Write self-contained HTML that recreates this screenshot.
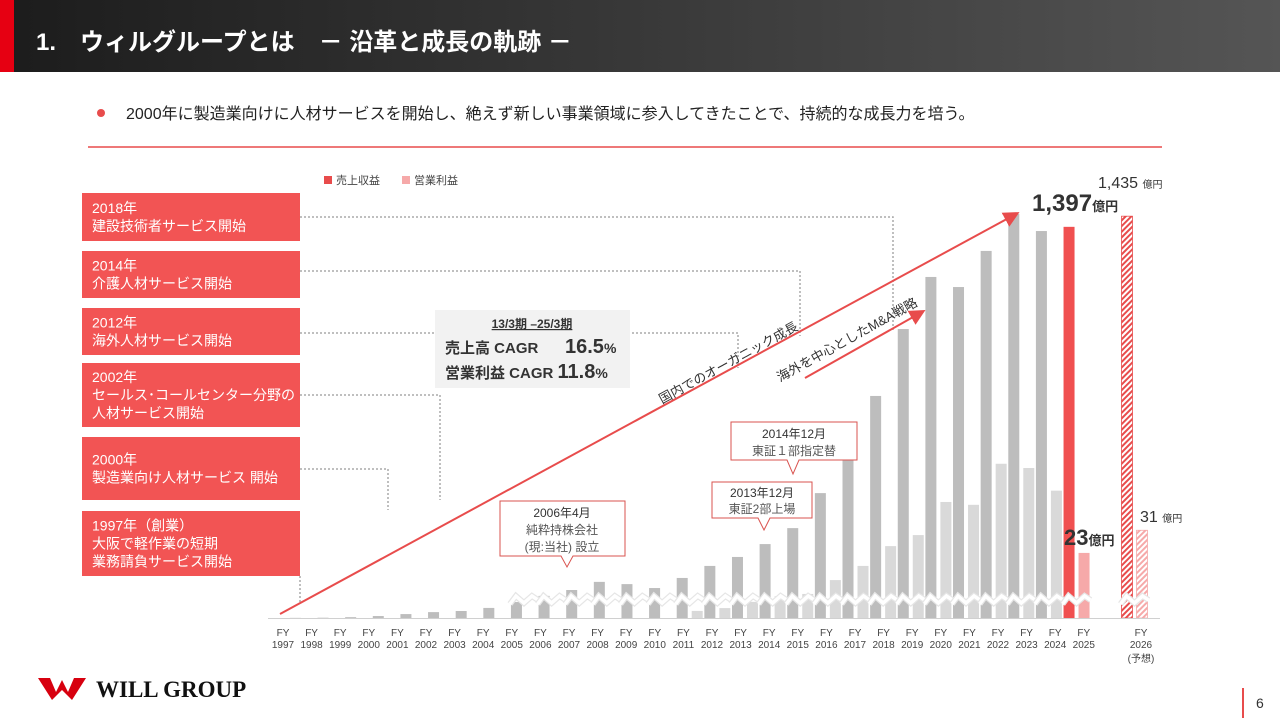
<!DOCTYPE html>
<html><head><meta charset="utf-8">
<style>
body{margin:0;width:1280px;height:720px;overflow:hidden;background:#fff;font-family:"Liberation Sans","Noto Sans CJK JP",sans-serif;}
svg text{font-family:"Liberation Sans","Noto Sans CJK JP",sans-serif;}
svg text.logo{font-family:"Liberation Serif",serif;}
</style></head><body>
<svg id="s" width="1280" height="720" viewBox="0 0 1280 720" xmlns="http://www.w3.org/2000/svg">
<defs>
<linearGradient id="hg" x1="0" x2="1" y1="0" y2="0"><stop offset="0" stop-color="#1c1c1c"/><stop offset="1" stop-color="#555"/></linearGradient>
<pattern id="hatchR" width="4" height="4" patternUnits="userSpaceOnUse" patternTransform="rotate(45)"><rect width="4" height="4" fill="#fff"/><rect width="2" height="4" fill="#e84c4c"/></pattern>
<pattern id="hatchP" width="4" height="4" patternUnits="userSpaceOnUse" patternTransform="rotate(45)"><rect width="4" height="4" fill="#fff"/><rect width="2" height="4" fill="#f6a9a9"/></pattern>
<marker id="ah" markerWidth="8" markerHeight="8" refX="6" refY="4" orient="auto"><path d="M0,0 L8,4 L0,8 z" fill="#e84c4c"/></marker>
</defs>
<rect x="0" y="0" width="1280" height="72" fill="url(#hg)"/>
<rect x="0" y="0" width="14" height="72" fill="#e60012"/>
<text x="36" y="50" fill="#fff" font-size="24" font-weight="bold">1.　ウィルグループとは　－ 沿革と成長の軌跡 －</text>
<circle cx="101" cy="113" r="4" fill="#e84c4c"/>
<text x="126" y="119" font-size="16" fill="#222">2000年に製造業向けに人材サービスを開始し、絶えず新しい事業領域に参入してきたことで、持続的な成長力を培う。</text>
<line x1="88" y1="147" x2="1162" y2="147" stroke="#e84c4c" stroke-width="1.5"/>
<rect x="324" y="176" width="8" height="8" fill="#e84c4c"/>
<text x="336" y="184" font-size="11" fill="#444">売上収益</text>
<rect x="402" y="176" width="8" height="8" fill="#f6a9a9"/>
<text x="414" y="184" font-size="11" fill="#444">営業利益</text>
<g id="conn" fill="none" stroke="#aaa" stroke-width="1.5" stroke-dasharray="2,2">
<polyline points="300,217 893,217 893,330"/>
<polyline points="300,271 800,271 800,336"/>
<polyline points="300,333 738,333 738,368"/>
<polyline points="300,395 440,395 440,500"/>
<polyline points="300,469 388,469 388,510"/>
<polyline points="300,576 300,602"/>
</g>
<g id="boxes"></g>
<g id="chart"></g>
<rect x="435" y="310" width="195" height="78" fill="#f2f2f2"/>
<text x="532" y="328" font-size="12" font-weight="bold" text-anchor="middle" fill="#333" text-decoration="underline">13/3期 –25/3期</text>
<text x="445" y="353" font-size="15" font-weight="bold" fill="#333">売上高 CAGR</text>
<text x="565" y="353" font-size="20" font-weight="bold" fill="#333">16.5<tspan font-size="14">%</tspan></text>
<text x="445" y="378" font-size="15" font-weight="bold" fill="#333">営業利益 CAGR <tspan font-size="20">11.8</tspan><tspan font-size="14">%</tspan></text>
<line x1="280" y1="614" x2="1016" y2="214" stroke="#e84c4c" stroke-width="2" marker-end="url(#ah)"/>
<line x1="805" y1="378" x2="922" y2="312" stroke="#e84c4c" stroke-width="2" marker-end="url(#ah)"/>
<text transform="translate(662,404) rotate(-28.6)" font-size="13" fill="#333">国内でのオーガニック成長</text>
<text transform="translate(780,382) rotate(-29)" font-size="13" fill="#333">海外を中心としたM&amp;A戦略</text>
<g fill="#fff" stroke="#d9534f" stroke-width="1">
<path d="M500,501 H625 V556 H573 L567,567 L561,556 H500 Z"/>
<path d="M712,482 H812 V518 H770 L764,530 L758,518 H712 Z"/>
<path d="M731,422 H857 V460 H799 L793,474 L787,460 H731 Z"/>
</g>
<g font-size="12" fill="#333" text-anchor="middle">
<text x="562" y="517">2006年4月</text>
<text x="562" y="534" fill="#555">純粋持株会社</text>
<text x="562" y="551" fill="#555">(現:当社) 設立</text>
<text x="762" y="497">2013年12月</text>
<text x="762" y="513" fill="#555">東証2部上場</text>
<text x="794" y="438">2014年12月</text>
<text x="794" y="455" fill="#555">東証１部指定替</text>
</g>
<text x="1098" y="188" font-size="16" fill="#333">1,435 <tspan font-size="10">億円</tspan></text>
<text x="1032" y="211" font-size="24" font-weight="bold" fill="#333">1,397<tspan font-size="13">億円</tspan></text>
<text x="1064" y="545" font-size="22" font-weight="bold" fill="#333">23<tspan font-size="13">億円</tspan></text>
<text x="1140" y="522" font-size="16" fill="#333">31 <tspan font-size="10">億円</tspan></text>
<g>
<path d="M38,678 L50,678 L56,692 L62,680 L68,692 L74,678 L86,678 L72,700 L62,690 L52,700 Z" fill="#d7000f"/>
<text class="logo" x="96" y="697" font-size="23" font-weight="bold" fill="#111">WILL GROUP</text>
</g>
<line x1="1243" y1="688" x2="1243" y2="718" stroke="#e84c4c" stroke-width="2"/>
<text x="1256" y="708" font-size="14" fill="#333">6</text>
</svg>
<script>
const years=["1997","1998","1999","2000","2001","2002","2003","2004","2005","2006","2007","2008","2009","2010","2011","2012","2013","2014","2015","2016","2017","2018","2019","2020","2021","2022","2023","2024","2025"];
const revenue=[0.5,1,3,7,14,21,25,36,57,79,100,129,121,107,143,186,218,264,321,446,571,793,1032,1218,1182,1311,1443,1382,1397];
const profit=[0,0,0,0,0,0,0,0,0,0,0,0,0,0,2.5,3.5,5.7,7.7,8.5,13.4,18.4,25.4,29.3,41,40,54.5,53,45,23];
const forecastRevenue=1435;
const forecastProfit=31;
const boxTitles=["2018年","2014年","2012年","2002年","2000年","1997年（創業）"];
const boxBodies=[["建設技術者サービス開始"],["介護人材サービス開始"],["海外人材サービス開始"],["セールス･コールセンター分野の","人材サービス開始"],["製造業向け人材サービス 開始"],["大阪で軽作業の短期","業務請負サービス開始"]];
const NS="http://www.w3.org/2000/svg";
const base=618;
function revX(i){return 295.4+i*27.63;}
function profX(i){return revX(i)+15;}
function labX(i){return 283+i*28.6;}
function revY(v){return base-v*0.28;}
function profY(v){return base-v*2.83;}
function mk(tag,attrs,parent){const e=document.createElementNS(NS,tag);for(const k in attrs)e.setAttribute(k,attrs[k]);parent.appendChild(e);return e;}
const chart=document.getElementById('chart');
const bw=11;
years.forEach((y,i)=>{
  const last=i===years.length-1;
  const r=mk('rect',{x:revX(i)-bw/2,y:revY(revenue[i]),width:bw,height:base-revY(revenue[i]),fill:last?'#f05050':'#bdbdbd'},chart);
  
  
  if(profit[i]>0){
    const p=mk('rect',{x:profX(i)-bw/2,y:profY(profit[i]),width:bw,height:base-profY(profit[i]),fill:last?'#f6a9a9':'#d9d9d9'},chart);
    
    
  }
  const t=mk('text',{x:labX(i),y:636,'font-size':10,'text-anchor':'middle',fill:'#444'},chart);
  
  
  t.innerHTML='<tspan x="'+labX(i)+'">FY</tspan><tspan x="'+labX(i)+'" dy="12">'+y+'</tspan>';
});
const fx=1127;
const fr=mk('rect',{x:fx-bw/2,y:revY(forecastRevenue),width:bw,height:base-revY(forecastRevenue),fill:'url(#hatchR)',stroke:'#e84c4c','stroke-width':0.8},chart);


const fp=mk('rect',{x:fx+15-bw/2,y:profY(forecastProfit),width:bw,height:base-profY(forecastProfit),fill:'url(#hatchP)',stroke:'#f6a9a9','stroke-width':0.8},chart);


const ft=mk('text',{x:1141,y:636,'font-size':10,'text-anchor':'middle',fill:'#444'},chart);


ft.innerHTML='<tspan x="1141">FY</tspan><tspan x="1141" dy="12">2026</tspan><tspan x="1141" dy="14">(予想)</tspan>';
const ax=mk('line',{x1:268,y1:base+0.5,x2:1160,y2:base+0.5,stroke:'#d0d0d0','stroke-width':1},chart);


const brk=[];
for(let i=8;i<years.length;i++)brk.push(revX(i)+7.5);
brk.push(fx+7.5);
brk.forEach((cx,k)=>{
  const d='M'+(cx-14)+',604 L'+(cx-8)+',596 L'+(cx)+',603 L'+(cx+8)+',596 L'+(cx+14)+',600';
  const g=mk('path',{d:d,fill:'none',stroke:'#e6e6e6','stroke-width':6},chart);
  
  
  const w=mk('path',{d:d,fill:'none',stroke:'#fff','stroke-width':3.5},chart);
  
  
});
const boxes=document.getElementById('boxes');
const boxY=[193,251,308,363,437,511];
const boxH=[48,47,47,64,63,65];
boxTitles.forEach((t,i)=>{
  const r=mk('rect',{x:82,y:boxY[i],width:218,height:boxH[i],fill:'#f25454'},boxes);
  
  
  const lines=[t].concat(boxBodies[i]);
  const start=boxY[i]+(boxH[i]-lines.length*18)/2+14;
  lines.forEach((l,j)=>{
    const tx=mk('text',{x:92,y:start+j*18,'font-size':14,fill:'#fff'},boxes);
    
    
    tx.textContent=l;
  });
});
</script>
</body></html>
